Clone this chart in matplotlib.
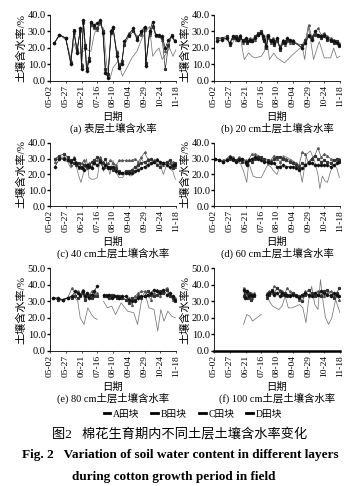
import numpy as np
import matplotlib
matplotlib.use("Agg")
import matplotlib.pyplot as plt
from matplotlib.lines import Line2D

plt.rcParams['font.family'] = ['Liberation Serif', 'Noto Sans CJK SC', 'DejaVu Sans']
plt.rcParams['axes.unicode_minus'] = False

nan = np.nan
tick_days = [0, 25, 50, 75, 100, 125, 150, 175, 200]
tick_labels = ['05-02', '05-27', '06-21', '07-16', '08-10', '09-04', '09-29', '10-24', '11-18']
series_names = ['A田块', 'B田块', 'C田块', 'D田块']

# ---- (a) surface layer ----
days_a = [7, 15, 25, 33, 38, 43, 48, 50, 53, 56, 58, 62, 65, 70, 75, 80, 84, 88, 92, 97,
          100, 106, 110, 114, 118, 125, 132, 138, 145, 150, 152, 158, 163, 168, 173, 178, 183, 188, 193, 198]
a_A = [23, 28, 26, 10, 30, 17, 32, 7, 37, 20, 6, 12, 36, 34, 35, 37, 29, 5, 2, 30,
       33, 15, 8, 10, 24, 28, 32, 25, 30, 33, 9, 30, 36, 28, 28, 27, 20, 25, 27, 24]
a_B = [23, 28, 26, 11, 31, 18, 31, 9, 36, 22, 8, 14, 35, 33, 32, 36, 30, 7, 4, 29,
       32, 17, 9, 12, 22, 27, 30, 26, 29, 32, 11, 29, 33, 28, 27, 26, 7, 22, 28, 24]
a_C = [23, 28, 26, 12, 29, 20, 30, 10, 35, 21, 7, 13, 34, 32, 31, 35, 31, 6, 3, 31,
       32, 18, 10, 11, 23, 29, 31, 27, 28, 31, 10, 28, 34, 27, 27, 25, 18, 21, 27, 25]
days_a_d = [7, 15, 25, 33, 38, 43, 48, 53, 58, 65, 70, 75, 80, 85, 90, 95, 100, 108, 115, 122,
            130, 138, 145, 152, 158, 163, 168, 173, 178, 185, 190, 195, 200]
a_D = [23, 28, 25, 14, 23, 17, 17, 18, 19, 18, 28, 33, 34, 32, 10, 1, 8, 12, 3, 8,
       14, 18, 25, 30, 33, 15, 18, 20, 13, 17, 20, 15, 19]

# ---- (b) 20 cm ----
days_b = [5, 12, 20, 25, 30, 35, 38, 42, 46, 50, 53, 57, 60, 65, 70, 75, 78, 80, 83, 86,
          90, 93, 96, 100, 105, 110, 113, 116, 120, 125, 140, 145, 150, 155, 160, 165, 170, 175, 180, 185, 190, 195, 199]
b_A = [24, 25, 26, 23, 27, 26, 25, 27, 24, 26, 24, 25, 24, 26, 28, 29, 27, 25, 21, 27,
       24, 25, 23, 26, 20, 24, 23, 26, 25, 24, 20, 23, 27, 25, 30, 28, 27, 28, 26, 25, 24, 23, 22]
b_B = [26, 26, 27, 22, 26, 27, 25, 26, 25, 25, 23, 24, 25, 27, 29, 30, 26, 24, 20, 28,
       25, 24, 22, 25, 19, 23, 24, 25, 24, 23, 22, 25, 28, 26, 28, 27, 26, 27, 25, 24, 23, 24, 21]
b_C = [25, 26, 26, 23, 27, 25, 26, 28, 23, 24, 25, 26, 24, 25, 28, 29, 28, 26, 22, 26,
       23, 26, 24, 24, 21, 25, 22, 24, 23, 25, 20, 24, 34, 27, 29, 32, 28, 29, 27, 26, 25, 24, 23]
days_b_d = [5, 12, 20, 28, 35, 42, 48, 55, 60, 65, 75, 80, 83, 88, 95, 100, 112, 125, 140, 144,
            150, 158, 167, 175, 185, 190, 195, 200]
b_D = [26, 26, 25, 22, 27, 26, 13, 17, 15, 14, 15, 18, 28, 13, 17, 14, 11, 16, 21, 13,
       33, 13, 24, 14, 14, 20, 14, 15]

# ---- (c) 40 cm ----
days_c = [8, 15, 22, 28, 33, 38, 42, 46, 50, 54, 58, 62, 66, 70, 75, 80, 84, 88, 92, 96,
          100, 105, 110, 115, 120, 125, 130, 135, 140, 145, 150, 155, 160, 165, 170, 175, 180, 185, 190, 195, 199]
c_A = [25, 30, 30, 29, 28, 30, 27, 25, 24, 23, 26, 25, 24, 27, 26, 28, 24, 26, 25, 24,
       25, 22, 21, 21, 21, 21, 21, 22, 23, 24, 25, 26, 27, 28, 29, 28, 27, 26, 25, 26, 26]
c_B = [30, 32, 33, 31, 29, 27, 26, 27, 25, 26, 25, 26, 28, 29, 31, 29, 27, 30, 24, 25,
       23, 24, 22, 21, 22, 22, 23, 25, 26, 27, 28, 29, 30, 28, 26, 25, 27, 28, 29, 24, 27]
c_C = [28, 31, 31, 30, 26, 31, 28, 24, 27, 29, 24, 27, 25, 28, 29, 31, 28, 25, 27, 29,
       27, 26, 29, 29, 29, 29, 29, 30, 28, 31, 34, 30, 27, 29, 30, 27, 26, 28, 27, 28, 25]
days_c_d = [8, 15, 22, 28, 33, 40, 45, 49, 54, 58, 62, 66, 70, 75, 80, 85, 90, 95, 100, 105,
            110, 115, 120, 128, 135, 140, 145, 150, 155, 160, 165, 170, 175, 180, 185, 190, 195, 199]
c_D = [30, 31, 29, 28, 24, 28, 20, 15, 22, 30, 18, 17, 17, 18, 31, 22, 28, 20, 29, 21,
       18, 18, 21, 19, 21, 25, 30, 27, 26, 30, 28, 27, 26, 20, 26, 24, 22, 17]

# ---- (d) 60 cm ----
days_d = [2, 8, 14, 20, 25, 30, 35, 40, 45, 50, 53, 56, 60, 65, 70, 75, 80, 85, 90, 95,
          100, 105, 110, 115, 120, 125, 130, 135, 140, 145, 150, 155, 160, 165, 170, 175, 180, 185, 190, 195, 199]
d_A = [30, 29, 28, 29, 31, 30, 28, 29, 30, 28, 26, 29, 30, 31, 30, 29, 28, 28, 27, 27,
       25, 25, 26, 25, 25, 25, 24, 23, 24, 26, 27, 27, 26, 26, 26, 26, 26, 25, 26, 27, 28]
d_B = [30, 29, 28, 29, 30, 29, 29, 30, 28, 27, 27, 29, 28, 30, 31, 31, 30, 29, 28, 30,
       31, 31, 30, 29, 28, 27, 26, 25, 27, 26, 28, 30, 32, 30, 28, 29, 28, 27, 29, 30, 29]
d_C = [30, 29, 29, 30, 32, 31, 29, 31, 30, 29, 28, 30, 33, 33, 32, 31, 29, 27, 29, 32,
       30, 28, 31, 30, 29, 28, 27, 26, 34, 33, 27, 30, 32, 37, 31, 33, 32, 30, 29, 28, 30]
days_d_d = [2, 10, 20, 28, 35, 42, 47, 52, 55, 58, 62, 68, 75, 80, 85, 90, 95, 100, 105, 110,
            115, 120, 128, 135, 140, 147, 153, 160, 165, 168, 172, 176, 180, 185, 190, 195, 199]
d_D = [30, 29, 29, 30, 28, 27, 22, 15, 27, 24, 19, 18, 18, 22, 26, 25, 22, 20, 26, 32,
       31, 30, 28, 26, 15, 33, 35, 28, 20, 11, 19, 16, 15, 22, 26, 24, 18]

# ---- (e) 80 cm ----
days_e = [5, 12, 20, 28, 35, 40, 44, 48, 52, 55, 58, 62, 66, 70, 75, 80, 85, 90, 94, 98,
          102, 106, 110, 115, 120, 125, 130, 135, 140, 145, 150, 155, 160, 165, 170, 175, 180, 185, 190, 195, 199]
e_A = [32, 32, 31, 32, 33, 36, 35, 34, 36, 33, 35, 32, 34, 36, 39, nan, 34, 33, 34, 32,
       33, 33, 32, 33, 33, 31, 30, 30, 32, 33, 33, 34, 35, 37, 36, 35, 37, 34, 35, 33, 31]
e_B = [32, 31, 31, 32, 32, 33, 32, 33, 35, 31, 33, 34, 32, 33, 33, nan, 33, 34, 32, 34,
       33, 32, 33, 32, 31, 29, 32, 31, 33, 32, 33, 36, 34, 33, 34, 36, 35, 37, 33, 32, 30]
e_C = [32, 31, 31, 32, 38, 34, 36, 34, 37, 32, 34, 33, 36, 35, 35, nan, 33, 33, 34, 33,
       34, 33, 32, 32, 31, 32, 28, 33, 35, 36, 36, 34, 31, 35, 37, 33, 36, 38, 34, 31, 32]
days_e_d = [5, 12, 20, 28, 33, 38, 44, 48, 54, 60, 66, 70, 75, 80, 85, 91, 98, 104, 113, 123,
            133, 139, 145, 150, 157, 165, 171, 176, 181, 187, 193, 199]
e_D = [32, 31, 30, 32, 33, 33, 30, 20, 16, 26, 22, 20, 19, nan, 30, 26, 27, 22, 29, 24,
       23, 16, 30, 36, 26, 25, 12, 25, 18, 24, 21, 20]

# ---- (f) 100 cm ----
days_f = [47, 49, 52, 55, 58, 61, 64, 70, 84, 88, 92, 96, 100, 104, 108, 112, 116, 120, 125, 130,
          135, 140, 145, 150, 155, 160, 165, 170, 175, 180, 185, 190, 195, 199]
f_A = [37, 32, 36, 33, 34, 33, 34, nan, 34, 35, 36, 34, 35, 33, 35, 34, 34, 33, 34, 33,
       32, 34, 35, 34, 33, 35, 34, 36, 35, 34, 33, 35, 34, 33]
f_B = [33, 36, 32, 35, 31, 34, 33, nan, 32, 34, 37, 35, 38, 36, 34, 35, 33, 34, 35, 34,
       33, 30, 34, 37, 35, 33, 34, 33, 36, 37, 34, 32, 35, 38]
f_C = [38, 33, 35, 32, 35, 32, 35, nan, 35, 36, 35, 39, 38, 37, 36, 34, 38, 36, 35, 34,
       31, 33, 36, 33, 34, 35, 36, 34, 33, 35, 36, 34, 33, 31]
days_f_d = [47, 52, 57, 61, 68, 75, 80, 84, 88, 93, 98, 103, 108, 113, 118, 124, 130, 136, 141, 146,
            150, 155, 160, 165, 169, 173, 177, 182, 187, 193, 200]
f_D = [16, 22, 21, 18, 20, 22, nan, 34, 30, 27, 26, 25, 27, 33, 26, 26, 27, 28, 26, 17,
       30, 39, 28, 25, 43, 30, 20, 16, 20, 31, 23]

captions = ['(a) 表层土壤含水率', '(b) 20 cm土层土壤含水率', '(c) 40 cm土层土壤含水率',
            '(d) 60 cm土层土壤含水率', '(e) 80 cm土层土壤含水率', '(f) 100 cm土层土壤含水率']

panels = [
    (days_a, a_A, a_B, a_C, days_a_d, a_D, 40),
    (days_b, b_A, b_B, b_C, days_b_d, b_D, 40),
    (days_c, c_A, c_B, c_C, days_c_d, c_D, 40),
    (days_d, d_A, d_B, d_C, days_d_d, d_D, 40),
    (days_e, e_A, e_B, e_C, days_e_d, e_D, 50),
    (days_f, f_A, f_B, f_C, days_f_d, f_D, 50),
]

W, H = 358, 486
fig = plt.figure(figsize=(W / 100, H / 100), dpi=100)
fig.patch.set_facecolor('white')

def px(x, y):
    return x / W, 1 - y / H

# (left px, top px, bottom px) for each panel
boxes = [(50, 15, 81), (214, 15, 81), (50, 143, 206), (214, 143, 206), (50, 268, 351), (214, 268, 351)]
pw = 126
styles = [dict(color='#111111', marker='D', ms=1.3, lw=0.5),
          dict(color='#333333', marker='s', ms=1.3, lw=0.5),
          dict(color='#555555', marker='^', ms=1.3, lw=0.5),
          dict(color='#777777', marker=None, lw=0.55)]

for i, (box, pan, cap) in enumerate(zip(boxes, panels, captions)):
    l, t, b = box
    ax = fig.add_axes([l / W, 1 - b / H, pw / W, (b - t) / H])
    dA, vA, vB, vC, dD, vD, ymax = pan
    ax.plot(dD, vD, **styles[3])
    ax.plot(dA, vC, **styles[2])
    ax.plot(dA, vB, **styles[1])
    ax.plot(dA, vA, **styles[0])
    ax.set_xlim(0, 200)
    ax.set_ylim(0, ymax)
    ax.set_yticks(np.arange(0, ymax + 1, 10))
    ax.set_yticklabels([f'{v:.1f}' for v in np.arange(0, ymax + 1, 10)], fontsize=7.5)
    ax.set_xticks(tick_days)
    ax.set_xticklabels(tick_labels, rotation=90, fontsize=6.8)
    for s in ['top', 'right']:
        ax.spines[s].set_visible(False)
    ax.spines['left'].set_linewidth(0.6)
    ax.spines['bottom'].set_linewidth(1.8 if i == 5 else 0.6)
    ax.tick_params(axis='y', length=2, width=1.0, pad=1)
    ax.tick_params(axis='x', length=1.5, width=0.5, pad=1.5)
    ax.set_ylabel('土壤含水率/%', fontsize=8, labelpad=1)
    cx = l + pw / 2
    fig.text(*px(cx, b + 36), '日期', ha='center', va='center', fontsize=7.5)
    fig.text(*px(cx, b + 47), cap, ha='center', va='center', fontsize=7.5)

handles = [Line2D([0], [0], color='black', lw=2) for _ in range(4)]
fig.legend(handles, series_names, loc='center', bbox_to_anchor=px(193, 414), ncol=4,
           frameon=False, fontsize=7, handlelength=0.7, handletextpad=0.3, columnspacing=1.2)

fig.text(*px(180, 434), '图2   棉花生育期内不同土层土壤含水率变化', ha='center', va='center', fontsize=9.5)
fig.text(*px(180, 455), 'Fig. 2   Variation of soil water content in different layers', ha='center',
         va='center', fontsize=9.5, fontweight='bold')
fig.text(*px(174, 477), 'during cotton growth period in field', ha='center', va='center',
         fontsize=9.5, fontweight='bold')

fig.savefig('out.png', dpi=100)
